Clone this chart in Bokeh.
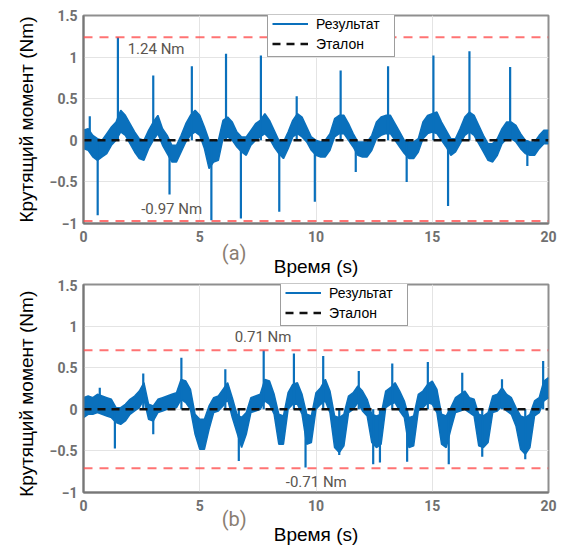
import numpy as np
from bokeh.plotting import figure
from bokeh.layouts import column
from bokeh.models import Range1d, FixedTicker, Span, Label, LinearAxis
from bokeh.embed import file_html
from bokeh.resources import INLINE

# ---------------- data ----------------
# noise band of the measured torque, sampled every 0.2 s from 0 to 20 s
band_step = 0.2
upper_a = [
    0.12, 0.14, 0.06, 0.02, 0.00, 0.08, 0.16, 0.22, 0.36, 0.30,
    0.20, 0.10, 0.02, 0.00, 0.12, 0.22, 0.30, 0.14, 0.06, -0.06,
    -0.06, 0.06, 0.20, 0.30, 0.36, 0.30, 0.16, 0.00, -0.02, 0.00,
    0.24, 0.28, 0.22, 0.10, 0.04, 0.04, 0.12, 0.20, 0.24, 0.32,
    0.24, 0.12, 0.00, -0.02, 0.10, 0.24, 0.32, 0.28, 0.16, 0.04,
    0.00, -0.02, 0.00, 0.08, 0.26, 0.30, 0.30, 0.20, 0.08, -0.02,
    -0.02, -0.02, 0.06, 0.22, 0.28, 0.30, 0.30, 0.20, 0.10, 0.00,
    -0.02, -0.02, 0.02, 0.22, 0.30, 0.32, 0.34, 0.22, 0.12, 0.02,
    0.02, 0.14, 0.28, 0.34, 0.30, 0.18, 0.06, -0.04, -0.04, 0.02,
    0.14, 0.22, 0.22, 0.18, 0.08, 0.00, -0.02, -0.02, 0.06, 0.12,
    0.12,
]
lower_a = [
    -0.10, -0.12, -0.20, -0.24, -0.20, -0.16, -0.06, 0.00, 0.10, 0.06,
    -0.04, -0.14, -0.22, -0.24, -0.10, 0.00, 0.08, -0.06, -0.16, -0.26,
    -0.26, -0.14, -0.02, 0.06, 0.10, 0.06, -0.10, -0.34, -0.26, -0.24,
    0.02, 0.04, 0.00, -0.08, -0.14, -0.18, -0.06, 0.00, 0.04, 0.08,
    0.02, -0.08, -0.16, -0.22, -0.10, 0.04, 0.08, 0.04, -0.02, -0.12,
    -0.18, -0.20, -0.20, -0.12, 0.04, 0.08, 0.08, 0.00, -0.08, -0.18,
    -0.20, -0.20, -0.12, 0.02, 0.06, 0.08, 0.08, 0.00, -0.08, -0.16,
    -0.22, -0.22, -0.14, 0.02, 0.08, 0.10, 0.08, 0.00, -0.08, -0.18,
    -0.14, -0.04, 0.06, 0.10, 0.06, -0.04, -0.14, -0.24, -0.26, -0.18,
    -0.04, 0.02, 0.02, -0.02, -0.10, -0.16, -0.18, -0.18, -0.10, -0.04,
    -0.04,
]
spike_t_a = [0.27, 1.48, 3.00, 4.66, 6.13, 7.63, 9.17, 11.06, 13.10, 15.05,
             16.60, 18.35, 0.61, 3.70, 5.50, 6.77, 8.42, 9.95, 11.71, 13.90,
             15.68, 19.09]
spike_v_a = [0.29, 1.24, 0.78, 0.89, 1.04, 1.02, 0.53, 0.84, 0.89, 1.02,
             1.07, 0.88, -0.90, -0.65, -0.96, -0.94, -0.86, -0.74, -0.38, -0.50,
             -0.79, -0.31]

upper_b = [
    0.14, 0.16, 0.14, 0.18, 0.16, 0.14, 0.12, 0.02, 0.02, 0.06,
    0.12, 0.16, 0.22, 0.32, 0.06, 0.04, 0.12, 0.14, 0.16, 0.18,
    0.20, 0.36, 0.34, 0.24, -0.06, -0.12, -0.12, 0.04, 0.14, 0.16,
    0.24, 0.32, 0.14, -0.06, -0.10, -0.04, 0.14, 0.16, 0.18, 0.36,
    0.34, 0.18, -0.06, -0.08, 0.20, 0.30, 0.32, 0.18, -0.06, -0.08,
    0.20, 0.26, 0.36, 0.22, -0.08, -0.10, -0.06, 0.16, 0.20, 0.28,
    0.22, 0.12, -0.06, -0.08, -0.06, 0.22, 0.26, 0.32, 0.22, 0.10,
    -0.10, -0.08, 0.18, 0.22, 0.30, 0.34, 0.24, -0.06, -0.08, 0.02,
    0.14, 0.18, 0.22, 0.14, 0.12, -0.06, -0.08, -0.04, 0.16, 0.18,
    0.26, 0.18, 0.14, 0.02, -0.08, -0.10, -0.06, 0.10, 0.14, 0.34,
    0.38,
]
lower_b = [
    -0.10, -0.06, -0.06, -0.04, -0.06, -0.08, -0.10, -0.16, -0.18, -0.14,
    -0.06, -0.02, 0.02, 0.12, -0.12, -0.14, -0.04, -0.02, 0.00, 0.02,
    0.02, 0.12, 0.08, 0.00, -0.30, -0.48, -0.48, -0.24, -0.04, -0.02,
    0.04, 0.12, -0.10, -0.28, -0.46, -0.30, -0.04, -0.02, 0.00, 0.10,
    0.06, -0.06, -0.42, -0.42, 0.00, 0.06, 0.06, -0.06, -0.42, -0.40,
    0.00, 0.06, 0.10, -0.04, -0.46, -0.52, -0.44, -0.04, 0.00, 0.08,
    -0.02, -0.08, -0.40, -0.46, -0.42, 0.02, 0.06, 0.08, -0.02, -0.10,
    -0.46, -0.44, -0.02, 0.02, 0.08, 0.06, -0.04, -0.42, -0.46, -0.24,
    -0.04, -0.02, 0.00, -0.04, -0.08, -0.44, -0.46, -0.40, -0.04, -0.02,
    0.04, -0.02, -0.06, -0.20, -0.48, -0.54, -0.46, -0.08, -0.04, 0.10,
    0.14,
]
spike_t_b = [0.70, 2.57, 4.21, 6.10, 7.75, 9.05, 10.31, 11.84, 13.28, 14.81,
             16.29, 18.00, 19.77, 1.35, 3.00, 6.68, 9.55, 11.00, 12.46, 12.75,
             13.92, 15.71, 17.15, 19.00]
spike_v_b = [0.26, 0.43, 0.62, 0.48, 0.71, 0.67, 0.64, 0.46, 0.55, 0.57,
             0.44, 0.36, 0.58, -0.47, -0.30, -0.62, -0.70, -0.55, -0.66, -0.64,
             -0.63, -0.66, -0.57, -0.60]

ref_t = [0, 20]
ref_val = [0, 0]
limits_a = [1.24, -0.97]
limits_b = [0.71, -0.71]
limit_labels_a = ["1.24 Nm", "-0.97 Nm"]
limit_labels_b = ["0.71 Nm", "-0.71 Nm"]
x_ticks = [0, 5, 10, 15, 20]
y_ticks = [-1, -0.5, 0, 0.5, 1, 1.5]
y_tick_labels = ["\u22121", "\u22120.5", "0", "0.5", "1", "1.5"]
series_name = "Результат"
ref_name = "Эталон"
x_title = "Время (s)"
y_title = "Крутящий момент (Nm)"

BLUE = "#0a70bc"
NBSP = "\u00a0"


def make_panel(upper, lower, spike_t, spike_v, limits, limit_labels, lab_pos,
               tag, tag_standoff, xt_standoff, ytitle_pad, legend_x,
               height, top, bottom):
    t = np.arange(len(upper)) * band_step
    p = figure(width=568, height=height, output_backend="svg",
               toolbar_location=None, x_range=Range1d(0, 20),
               y_range=Range1d(-1, 1.5),
               min_border_left=83, min_border_right=20,
               min_border_top=top, min_border_bottom=bottom)
    p.background_fill_color = "white"
    p.outline_line_color = "#8f8f8f"
    p.outline_line_width = 2

    for ax in (p.xaxis[0], p.yaxis[0]):
        ax.axis_line_color = "#777777"
        ax.axis_line_width = 2
        ax.major_tick_in = 0
        ax.major_tick_out = 0
        ax.minor_tick_in = 0
        ax.minor_tick_out = 0
        ax.major_label_text_font = "Roboto"
        ax.major_label_text_font_size = "14px"
        ax.major_label_text_color = "#707070"
        ax.major_label_text_font_style = "bold"
    p.xaxis.ticker = FixedTicker(ticks=x_ticks)
    p.yaxis.ticker = FixedTicker(ticks=y_ticks)
    p.yaxis.major_label_overrides = {v: s for v, s in zip(y_ticks, y_tick_labels)}
    p.xaxis.major_label_standoff = 7
    p.yaxis.major_label_standoff = 6
    p.xgrid.grid_line_color = "#e4e4e4"
    p.ygrid.grid_line_color = "#e4e4e4"

    # y title
    p.yaxis.axis_label = y_title + NBSP * ytitle_pad
    p.yaxis.axis_label_text_font = "Liberation Sans"
    p.yaxis.axis_label_text_font_size = "19px"
    p.yaxis.axis_label_text_font_style = "normal"
    p.yaxis.axis_label_text_color = "black"
    p.yaxis.axis_label_standoff = 10

    # panel tag "(a)"/"(b)" as the label of the tick axis, shifted left by padding
    p.xaxis.axis_label = tag + NBSP * 33
    p.xaxis.axis_label_text_font = "Roboto"
    p.xaxis.axis_label_text_font_size = "20px"
    p.xaxis.axis_label_text_font_style = "normal"
    p.xaxis.axis_label_text_color = "#8a7e72"
    p.xaxis.axis_label_standoff = tag_standoff

    # x title on a second, tick-less axis below
    ax2 = LinearAxis(ticker=FixedTicker(ticks=[]), axis_line_color=None,
                     major_tick_out=0, major_tick_in=0, minor_tick_out=0,
                     minor_tick_in=0, major_label_standoff=0,
                     axis_label=x_title, axis_label_standoff=xt_standoff,
                     axis_label_text_font="Liberation Sans",
                     axis_label_text_font_size="19px",
                     axis_label_text_font_style="normal",
                     axis_label_text_color="black")
    p.add_layout(ax2, "below")

    for lim in limits:
        p.add_layout(Span(location=lim, dimension="width", line_color="#ff5050",
                          line_alpha=0.8, line_width=2, line_dash="9 7"))

    p.varea(x=t, y1=lower, y2=upper, fill_color=BLUE, fill_alpha=1)
    p.line(t, upper, line_color=BLUE, line_width=1.5)
    p.line(t, lower, line_color=BLUE, line_width=1.5)
    p.segment(x0=spike_t, y0=[0] * len(spike_t), x1=spike_t, y1=spike_v,
              line_color=BLUE, line_width=2.2, legend_label=series_name)
    p.line(ref_t, ref_val, line_color="#111111", line_width=2.5,
           line_dash="8 6", legend_label=ref_name)

    for (lx, ly), txt in zip(lab_pos, limit_labels):
        p.add_layout(Label(x=lx, y=ly, text=txt, text_font="Roboto",
                           text_font_size="15px", text_color="#5a554f",
                           text_baseline="middle", text_align="left"))

    lg = p.legend[0]
    lg.location = (legend_x, 166)
    lg.margin = 0
    lg.padding = 4
    lg.spacing = 3
    lg.glyph_height = 17
    lg.label_height = 17
    lg.glyph_width = 36
    lg.label_standoff = 8
    lg.label_width = 74
    lg.label_text_font = "Liberation Sans"
    lg.label_text_font_size = "14px"
    lg.label_text_color = "black"
    lg.border_line_color = "#3c3c3c"
    lg.border_line_width = 1.5
    lg.background_fill_alpha = 1
    return p


pa = make_panel(upper_a, lower_a, spike_t_a, spike_v_a, limits_a, limit_labels_a,
                [(1.9, 1.10), (2.48, -0.83)], "(a)", -4, -12, 0,
                184, 279, 15, 53)
pb = make_panel(upper_b, lower_b, spike_t_b, spike_v_b, limits_b, limit_labels_b,
                [(6.5, 0.87), (8.7, -0.87)], "(b)", -7, -10, 2,
                197, 268, 5, 52)

layout = column(pa, pb)
open("out.html", "w").write(file_html(layout, INLINE))
